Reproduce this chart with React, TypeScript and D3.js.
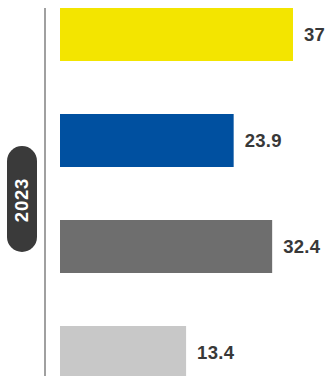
import React from "react";
import * as d3 from "d3";

const categories = ["A", "B", "C", "D"];
const values = [37, 23.9, 32.4, 13.4];
const valueLabels = ["37", "23.9", "32.4", "13.4"];
const colors = ["#f3e500", "#0050a0", "#6e6e6e", "#c8c8c8"];
const groupLabel = "2023";

const W = 332;
const H = 376;

export default function App() {
  const y = d3.scaleBand<string>().domain(categories).range([8, 379]).paddingInner(0.5).paddingOuter(0);
  const x = d3.scaleLinear().domain([0, 37]).range([125.4, 293]);
  const x0 = 60;
  const font = "'Liberation Sans', Arial, Helvetica, sans-serif";
  return (
    <svg width={W} height={H} style={{ position: "absolute", left: 0, top: 0 }}>
      <line x1={45} x2={45} y1={8} y2={H} stroke="#a0a0a0" strokeWidth={2} />
      {categories.map((c, i) => (
        <g key={c}>
          <rect x={x0} y={y(c)} width={x(values[i]) - x0} height={y.bandwidth()} fill={colors[i]} />
          <text
            x={x(values[i]) + 11}
            y={(y(c) as number) + y.bandwidth() / 2}
            dominantBaseline="central"
            fontFamily={font}
            fontWeight="bold"
            fontSize={18.5}
            letterSpacing={0.3}
            fill="#383838"
          >
            {valueLabels[i]}
          </text>
        </g>
      ))}
      <rect x={7} y={146} width={30} height={106} rx={15} ry={15} fill="#3a3a3a" />
      <text
        transform="translate(21,200) rotate(-90)"
        textAnchor="middle"
        dominantBaseline="central"
        fontFamily={font}
        fontWeight="bold"
        fontSize={18.5}
        letterSpacing={0.8}
        fill="#ffffff"
      >
        {groupLabel}
      </text>
    </svg>
  );
}
